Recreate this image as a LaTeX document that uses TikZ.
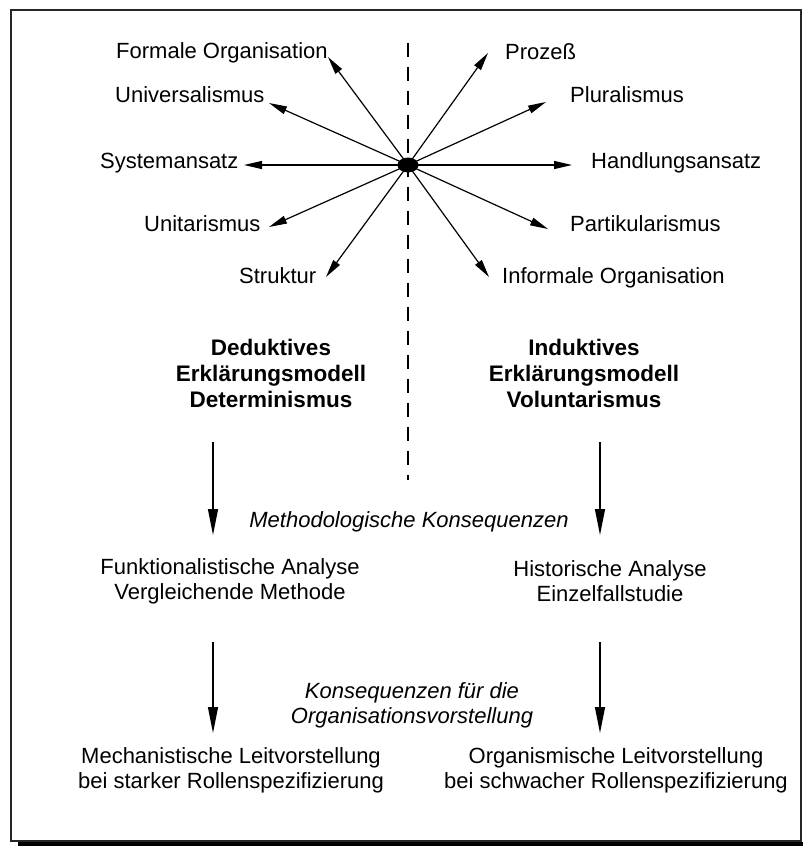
\documentclass[tikz,border=0pt]{standalone}
\usepackage{fontspec}
\setmainfont{Liberation Sans}
\usetikzlibrary{arrows.meta, shapes.geometric}

\begin{document}
\begin{tikzpicture}[x=1pt, y=-1pt]
\tikzstyle{lbl}  = [rectangle, inner sep=0pt, anchor=base west, font=\fontsize{22}{25}\selectfont]
\tikzstyle{txt}  = [rectangle, inner sep=0pt, text centered, align=center, font=\fontsize{22}{25}\selectfont]
\tikzstyle{note} = [rectangle, inner sep=0pt, text centered, align=center, font=\fontsize{22}{25}\selectfont\itshape]
\tikzstyle{head} = [rectangle, inner sep=0pt, text centered, align=center, font=\fontsize{22.5}{26}\selectfont\bfseries]
\tikzstyle{ray}  = [-{Triangle[length=18pt, width=8pt]}, line width=1.2pt, black]
\tikzstyle{down} = [-{Triangle[length=26pt, width=10pt]}, line width=1.3pt, black]
\useasboundingbox (0,0) rectangle (803,846);
% frame and shadow
\fill[black] (18,842) rectangle (803,846);
\draw[line width=2pt, black!85] (10.5,9.5) rectangle (801,841);
% dashed divider
\coordinate (d_top) at (408, 43);
\coordinate (d_bot) at (408, 480);
\draw[line width=1.6pt, dash pattern=on 14pt off 10pt] (d_top) -- (d_bot);
% hub and rays
\node[ellipse, fill=black, minimum width=21pt, minimum height=15pt, inner sep=0pt] at (408, 165) (hub) {};
\coordinate (t_0) at (328, 57);
\coordinate (t_1) at (488, 53);
\coordinate (t_2) at (269, 103);
\coordinate (t_3) at (546, 102);
\coordinate (t_4) at (244, 165);
\coordinate (t_5) at (572, 165);
\coordinate (t_6) at (269, 227);
\coordinate (t_7) at (548, 229);
\coordinate (t_8) at (326, 277);
\coordinate (t_9) at (489, 277);
\node[lbl] at (116, 58) (r_0) {Formale Organisation};
\node[lbl] at (505, 59) (r_1) {Prozeß};
\node[lbl] at (115, 102) (r_2) {Universalismus};
\node[lbl] at (570, 102) (r_3) {Pluralismus};
\node[lbl] at (100, 168) (r_4) {Systemansatz};
\node[lbl] at (591, 168) (r_5) {Handlungsansatz};
\node[lbl] at (144, 231) (r_6) {Unitarismus};
\node[lbl] at (570, 231) (r_7) {Partikularismus};
\node[lbl] at (239, 283) (r_8) {Struktur};
\node[lbl] at (502, 283) (r_9) {Informale Organisation};
\foreach \i in {0,...,9}
  \draw[ray] (hub.center) -- (t_\i);
% two models
\node[head] at (271, 373) (h_0) {Deduktives\\Erklärungsmodell\\Determinismus};
\node[head] at (584, 373) (h_1) {Induktives\\Erklärungsmodell\\Voluntarismus};
\node[note] at (409, 522) (m_0) {Methodologische Konsequenzen};
\node[txt] at (230, 581) (s_0) {Funktionalistische Analyse\\Vergleichende Methode};
\node[txt] at (610, 581) (s_1) {Historische Analyse\\Einzelfallstudie};
\node[note] at (412, 705) (m_1) {Konsequenzen für die\\Organisationsvorstellung};
\node[txt] at (231, 770) (o_0) {Mechanistische Leitvorstellung\\bei starker Rollenspezifizierung};
\node[txt] at (616, 770) (o_1) {Organismische Leitvorstellung\\bei schwacher Rollenspezifizierung};
\coordinate (a_0) at (213, 442);
\coordinate (a_1) at (213, 535);
\coordinate (a_2) at (600, 442);
\coordinate (a_3) at (600, 535);
\coordinate (a_4) at (213, 642);
\coordinate (a_5) at (213, 733);
\coordinate (a_6) at (600, 642);
\coordinate (a_7) at (600, 733);
\draw[down] (a_0) -- (a_1);
\draw[down] (a_2) -- (a_3);
\draw[down] (a_4) -- (a_5);
\draw[down] (a_6) -- (a_7);
\end{tikzpicture}
\end{document}
